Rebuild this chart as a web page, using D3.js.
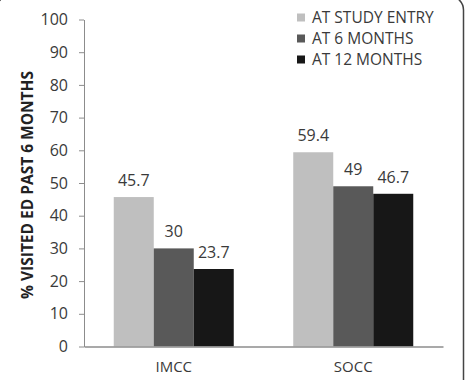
<!DOCTYPE html>
<html>
<head>
<meta charset="utf-8">
<script src="https://cdn.jsdelivr.net/npm/d3@7"></script>
<style>
  body { margin: 0; background: #fff; }
  svg { display: block; }
</style>
</head>
<body>
<script>
// chart data
const groups = ['IMCC', 'SOCC'];
const seriesNames = ['AT STUDY ENTRY', 'AT 6 MONTHS', 'AT 12 MONTHS'];
const studyEntry = [45.7, 59.4];
const sixMonths = [30, 49];
const twelveMonths = [23.7, 46.7];
const yTicks = [0, 10, 20, 30, 40, 50, 60, 70, 80, 90, 100];

const seriesValues = [studyEntry, sixMonths, twelveMonths];
const colors = ['#bfbfbf', '#595959', '#171717'];

const width = 465;
const height = 380;
const margin = { top: 19.5, right: 22, bottom: 33.5, left: 84 };
const font = "'Open Sans', 'Liberation Sans', sans-serif";

const svg = d3.select('body')
  .append('svg')
  .attr('width', width)
  .attr('height', height);

// frame around the figure
svg.append('rect')
  .attr('x', -4).attr('y', -4)
  .attr('width', 467.5).attr('height', 410)
  .attr('rx', 14)
  .attr('fill', 'none')
  .attr('stroke', '#444')
  .attr('stroke-width', 1.5);

// scales
const yScale = d3.scaleLinear()
  .domain([0, 100])
  .range([height - margin.bottom, margin.top]);

const xScale = d3.scaleBand()
  .domain(groups)
  .range([margin.left, width - margin.right]);

const xInner = d3.scaleBand()
  .domain(d3.range(seriesNames.length))
  .range([0, 120]);

const innerOffset = (xScale.bandwidth() - 120) / 2;

// y axis
const yAxis = d3.axisLeft(yScale).tickValues(yTicks).tickSize(5).tickSizeOuter(0);
const gy = svg.append('g')
  .attr('transform', `translate(${margin.left},0)`)
  .call(yAxis);
gy.select('.domain').attr('stroke', '#8c8c8c');
gy.selectAll('.tick line').attr('stroke', '#8c8c8c');
gy.selectAll('text')
  .attr('x', -16)
  .style('font-family', font)
  .style('font-size', '16px')
  .attr('fill', '#3a3a3a');

// bars
seriesValues.forEach((vals, i) => {
  svg.append('g')
    .selectAll('rect')
    .data(vals)
    .join('rect')
    .attr('x', (d, j) => xScale(groups[j]) + innerOffset + xInner(i))
    .attr('y', d => yScale(d))
    .attr('width', xInner.bandwidth())
    .attr('height', d => yScale(0) - yScale(d))
    .attr('fill', colors[i]);

  svg.append('g')
    .selectAll('text')
    .data(vals)
    .join('text')
    .attr('x', (d, j) => xScale(groups[j]) + innerOffset + xInner(i) + xInner.bandwidth() / 2)
    .attr('y', d => yScale(d) - 11)
    .attr('text-anchor', 'middle')
    .style('font-family', font)
    .style('font-size', '16px')
    .attr('fill', '#3a3a3a')
    .text(d => d);
});

// x axis
const xAxis = d3.axisBottom(xScale).tickSize(0).tickSizeOuter(0);
const gx = svg.append('g')
  .attr('transform', `translate(0,${height - margin.bottom})`)
  .call(xAxis);
gx.select('.domain').attr('stroke', '#8c8c8c').attr('stroke-width', 1.5);
gx.selectAll('text')
  .attr('y', 15)
  .attr('dy', '0.71em')
  .style('font-family', font)
  .style('font-size', '15px')
  .attr('fill', '#3a3a3a');

// y axis title
svg.append('text')
  .attr('transform', `translate(33,${(yScale(0) + yScale(100)) / 2 + 2}) rotate(-90)`)
  .attr('text-anchor', 'middle')
  .style('font-family', font)
  .style('font-size', '15.5px')
  .style('font-weight', 'bold')
  .attr('fill', '#222')
  .text('%  VISITED ED PAST 6 MONTHS');

// legend
const legend = svg.append('g')
  .selectAll('g')
  .data(seriesNames)
  .join('g')
  .attr('transform', (d, i) => `translate(297,${17.5 + i * 21})`);

legend.append('rect')
  .attr('x', 0).attr('y', -4)
  .attr('width', 8).attr('height', 8)
  .attr('fill', (d, i) => colors[i]);

legend.append('text')
  .attr('x', 15)
  .attr('dy', '0.36em')
  .style('font-family', font)
  .style('font-size', '15.5px')
  .attr('fill', '#3a3a3a')
  .text(d => d);
</script>
</body>
</html>
